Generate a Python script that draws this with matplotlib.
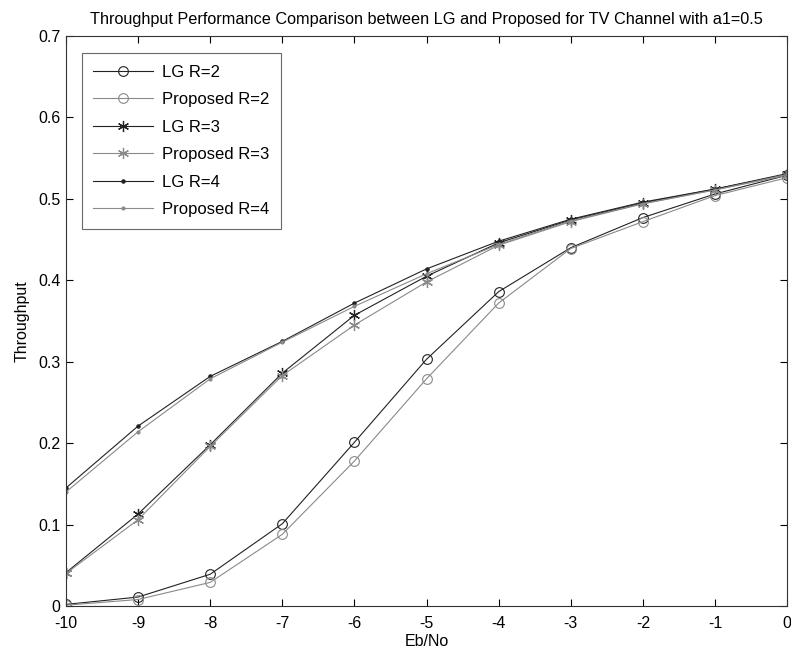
import matplotlib
matplotlib.use("Agg")
import matplotlib.pyplot as plt

plt.rcParams['font.family'] = ['Liberation Sans', 'DejaVu Sans']

ebno = [-10, -9, -8, -7, -6, -5, -4, -3, -2, -1, 0]
lg_r2 = [0.002, 0.011, 0.039, 0.101, 0.201, 0.303, 0.386, 0.440, 0.477, 0.506, 0.529]
prop_r2 = [0.001, 0.008, 0.029, 0.088, 0.178, 0.279, 0.372, 0.439, 0.472, 0.504, 0.526]
lg_r3 = [0.041, 0.113, 0.198, 0.286, 0.357, 0.405, 0.446, 0.474, 0.495, 0.512, 0.530]
prop_r3 = [0.040, 0.106, 0.196, 0.283, 0.345, 0.398, 0.443, 0.472, 0.494, 0.511, 0.529]
lg_r4 = [0.145, 0.221, 0.282, 0.325, 0.372, 0.414, 0.448, 0.475, 0.496, 0.512, 0.531]
prop_r4 = [0.140, 0.214, 0.279, 0.324, 0.368, 0.408, 0.444, 0.473, 0.494, 0.511, 0.530]

fig = plt.figure(figsize=(7.91, 6.51), dpi=100)
ax = fig.add_axes([0.0834, 0.0691, 0.9116, 0.8756])

dark = '#222222'
light = '#8a8a8a'
star = (6, 2, 0)
ax.plot(ebno, lg_r2, color=dark, lw=0.8, marker='o', mfc='none', ms=7, mew=0.8, label='LG R=2')
ax.plot(ebno, prop_r2, color=light, lw=0.8, marker='o', mfc='none', ms=7, mew=0.8, label='Proposed R=2')
ax.plot(ebno, lg_r3, color=dark, lw=0.8, marker=star, ms=8, mew=0.9, label='LG R=3')
ax.plot(ebno, prop_r3, color=light, lw=0.8, marker=star, ms=8, mew=0.9, label='Proposed R=3')
ax.plot(ebno, lg_r4, color=dark, lw=0.8, marker='.', ms=4.5, label='LG R=4')
ax.plot(ebno, prop_r4, color=light, lw=0.8, marker='.', ms=4, label='Proposed R=4')

ax.set_xlim(-10, 0)
ax.set_ylim(0, 0.7)
ax.set_xticks(ebno)
ax.set_xticklabels([str(v) for v in ebno])
ax.set_yticks([0, 0.1, 0.2, 0.3, 0.4, 0.5, 0.6, 0.7])
ax.set_yticklabels(['0', '0.1', '0.2', '0.3', '0.4', '0.5', '0.6', '0.7'])
ax.tick_params(direction='in', top=True, right=True, labelsize=11.5, length=5, width=0.8)
ax.tick_params(axis='x', pad=7)
ax.tick_params(axis='y', pad=4)
for s in ax.spines.values():
    s.set_linewidth(0.8)
    s.set_color('#333333')

ax.set_title('Throughput Performance Comparison between LG and Proposed for TV Channel with a1=0.5',
             fontsize=11.7, pad=9)
ax.set_xlabel('Eb/No', fontsize=11.5, labelpad=2)
ax.set_ylabel('Throughput', fontsize=11.5, labelpad=6)

leg = ax.legend(loc='upper left', bbox_to_anchor=(0.022, 0.97), borderaxespad=0,
                fontsize=12, frameon=True,
                fancybox=False, edgecolor='#444444', handlelength=3.6, borderpad=0.7,
                labelspacing=0.75, handletextpad=0.5)
leg.get_frame().set_linewidth(0.8)

fig.savefig('out.png', dpi=100)
